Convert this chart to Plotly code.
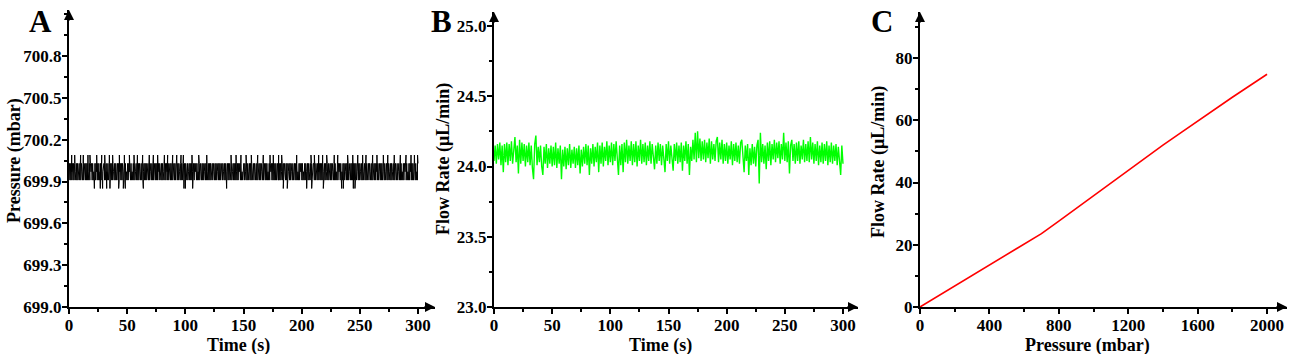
import plotly.graph_objects as go

# ---------------- data ----------------
# Panel A: pressure readings (quantised levels), band codes sampled evenly over 0-300 s
P_LEVEL = {"1": 699.91, "2": 699.97, "3": 700.03}
P_BAND = (
    "13131231313213131231313213123131312131323131213132131312313123"
    "31313213123131313213131231312313132131312131323131213131231313"
    "13213131231313123131321313123131312313213131231313213123131312"
    "31312313132131312313132131231313121313231312131321313123131213"
    "13131231321313123131312313213131231313213123131312131323131213"
    "31321313123131312313213131231313213123131312131323131213131231"
    "13131231313213131231313213123131312131323131213132131312313123"
    "31313213123131313213131231312313132131312131323131213131231313"
    "13213131231313123131321313123131312313213131231313213123131312"
    "31312313132131312313132131231313121313231312131321313123131213"
)
P_UP_VALUE = 700.09
P_UP_T = [2.3, 4.9, 10.0, 12.3, 16.3, 18.0, 23.8, 28.1, 30.7, 34.7, 37.5, 43.3, 47.6,
          51.9, 55.9, 58.8, 63.3, 69.0, 72.5, 76.2, 82.0, 84.8, 89.1, 92.6, 96.3, 98.3,
          105.7, 111.5, 118.4, 139.3, 143.6, 147.8, 152.2, 156.7, 162.2, 167.0, 172.8,
          175.6, 180.2, 182.8, 195.7, 208.0, 210.9, 214.6, 218.0, 221.5, 228.0, 231.0,
          239.5, 243.9, 248.2, 252.4, 255.3, 261.0, 264.7, 270.2, 274.0, 279.6, 284.8,
          289.7, 294.0, 296.9, 299.6]
P_DOWN_VALUE = 699.85
P_DOWN_T = [21.8, 26.9, 28.9, 32.4, 35.2, 42.7, 46.7, 48.4, 63.9, 98.8, 100.0, 106.3,
            135.5, 184.2, 187.6, 204.3, 208.6, 218.6, 234.4, 235.8, 244.4, 245.8]
P_TICKS = [699.0, 699.3, 699.6, 699.9, 700.2, 700.5, 700.8]

# Panel B: flow rate, hundredths of uL/min above 24.00, one reading per second (0-300 s)
FLOW_BASE = 24.0
FLOW_HUNDREDTHS = [
    4, 15, 2, 16, 5, 17, 1, 15, -4, 16,
    3, 17, 1, 16, 4, 18, 2, 16, 21, 3,
    15, -5, 19, 2, 17, 4, 16, 0, 15, 3,
    17, 1, 15, -1, -9, 16, 22, 1, 14, 3,
    15, 0, -6, 14, 2, 16, -1, 13, 2, 15,
    0, 14, 1, 17, -1, 13, 2, 15, -9, 12,
    0, 14, -2, 13, 1, 16, -1, 12, 2, 14,
    -1, 13, 1, 15, -5, 12, 0, 14, 2, 16,
    1, 15, -6, 13, 2, 16, 0, 14, 3, 17,
    -4, 15, 2, 17, 0, 14, 4, 18, 1, 15,
    3, 17, 1, 16, 4, 18, 2, -6, 15, 1,
    16, -4, 17, 3, 19, 2, 15, 4, 18, 1,
    16, 3, 18, 0, 15, 4, 19, 2, 16, 3,
    17, 1, 15, 4, 18, 2, 16, 3, -2, 15,
    2, 17, 4, 16, 1, 15, 3, -4, 16, 4,
    18, 2, 15, 3, -3, 16, 4, 17, 2, 15,
    3, 17, -3, 15, 4, 18, 2, 16, -6, 14,
    4, 19, 5, 24, 3, 25, 6, 20, 4, 18,
    5, 19, 3, 17, 6, 20, 2, 18, 5, 16,
    4, 18, 21, 3, 17, 5, 19, 2, 16, 4,
    17, 2, 15, 5, 18, 1, 16, 4, 17, 3,
    15, 2, 17, 19, 3, -4, 15, 4, 16, -6,
    13, 1, 16, 2, 14, 0, 15, 19, -12, 24,
    3, 16, 2, 15, -2, 17, 4, 18, 1, 16,
    5, 19, 3, 17, 6, 18, 2, 16, 5, 24,
    4, 17, 3, 18, -5, 15, 19, 4, 16, 2,
    17, 4, 18, 2, 15, 5, 19, 3, 16, 4,
    18, 3, 21, 5, 17, 2, 16, 4, 18, 1,
    15, 3, 17, 2, 16, 4, 18, 1, 15, 3,
    17, 2, 15, 4, 16, 1, 14, 3, -6, 15,
    2,
]
T_END = 300.0

# Panel C: flow rate vs pressure
C_PRESSURE = [0, 100, 200, 300, 400, 500, 600, 700, 800, 900, 1000,
              1100, 1200, 1300, 1400, 1500, 1600, 1700, 1800, 1900, 2000]
C_FLOW = [0.0, 3.4, 6.8, 10.2, 13.6, 17.0, 20.3, 23.6, 27.6, 31.7, 35.9,
          40.0, 44.0, 48.0, 52.0, 55.9, 59.8, 63.6, 67.4, 71.1, 74.8]

# ---------------- build series ----------------
n = len(P_BAND)
pts = [(i * T_END / (n - 1), P_LEVEL[c]) for i, c in enumerate(P_BAND)]
pts += [(t, P_UP_VALUE) for t in P_UP_T]
pts += [(t, P_DOWN_VALUE) for t in P_DOWN_T]
pts.sort(key=lambda p: p[0])
pa_t = [p[0] for p in pts]
pa_v = [p[1] for p in pts]

m = len(FLOW_HUNDREDTHS)
fb_t = [i * T_END / (m - 1) for i in range(m)]
fb_v = [FLOW_BASE + h / 100 for h in FLOW_HUNDREDTHS]

# ---------------- figure ----------------
W, H = 1291, 354
def fx(px): return px / W
def fy(py): return 1 - py / H

FONT = "Liberation Serif, Times New Roman, serif"
tickfont = dict(family=FONT, size=17, color="black", weight="bold")
titlefont = dict(family=FONT, size=18, color="black", weight="bold")

fig = go.Figure()
fig.add_trace(go.Scatter(x=pa_t, y=pa_v, mode="lines", line=dict(color="black", width=1),
                         xaxis="x", yaxis="y", showlegend=False))
fig.add_trace(go.Scatter(x=fb_t, y=fb_v, mode="lines", line=dict(color="#00ff00", width=1.4),
                         xaxis="x2", yaxis="y2", showlegend=False))
fig.add_trace(go.Scatter(x=C_PRESSURE, y=C_FLOW, mode="lines", line=dict(color="#ff0000", width=1.6),
                         xaxis="x3", yaxis="y3", showlegend=False))

def xax(dom, rng, dtick, anchor):
    return dict(domain=dom, range=rng, anchor=anchor, showline=True, linecolor="black", linewidth=2,
                automargin=False, ticklabelstandoff=-3,
                ticks="outside", ticklen=5, tickwidth=1.5, tickcolor="black", dtick=dtick, tick0=0,
                minor=dict(dtick=dtick / 2, ticks="outside", ticklen=3, tickwidth=1.5, tickcolor="black"),
                showgrid=False, zeroline=False, tickfont=tickfont)

def yax(dom, rng, ticks, dtick, fmt, anchor):
    return dict(domain=dom, range=rng, anchor=anchor, showline=True, linecolor="black", linewidth=2,
                automargin=False, ticklabelstandoff=-3,
                ticks="outside", ticklen=5, tickwidth=1.5, tickcolor="black",
                tickmode="array", tickvals=ticks, tickformat=fmt,
                minor=dict(dtick=dtick / 2, tick0=ticks[0], ticks="outside", ticklen=3, tickwidth=1.5,
                           tickcolor="black"),
                showgrid=False, zeroline=False, tickfont=tickfont)

fig.update_layout(
    width=W, height=H, margin=dict(l=0, r=0, t=0, b=0),
    paper_bgcolor="white", plot_bgcolor="white",
    xaxis=xax([fx(69), fx(435)], [0, 314.6], 50, "y"),
    yaxis=yax([fy(307), fy(10)], [699.0, 701.13], P_TICKS, 0.3, ".1f", "x"),
    xaxis2=xax([fx(494), fx(858)], [0, 312.9], 50, "y2"),
    yaxis2=yax([fy(307), fy(12)], [23.0, 25.1], [23.0, 23.5, 24.0, 24.5, 25.0], 0.5, ".1f", "x2"),
    xaxis3=xax([fx(920), fx(1287)], [0, 2115], 400, "y3"),
    yaxis3=yax([fy(307), fy(12)], [0, 94.8], [0, 20, 40, 60, 80], 20, "d", "x3"),
)

ann = []
for xr, yr in [("x", "y"), ("x2", "y2"), ("x3", "y3")]:
    ann.append(dict(xref=f"{xr} domain", yref=f"{yr} domain", x=1, y=0, ax=-12, ay=0,
                    showarrow=True, arrowhead=2, arrowsize=1, arrowwidth=2, arrowcolor="black", text=""))
    ann.append(dict(xref=f"{xr} domain", yref=f"{yr} domain", x=0, y=1, ax=0, ay=12,
                    showarrow=True, arrowhead=2, arrowsize=1, arrowwidth=2, arrowcolor="black", text=""))
for letter, px in [("A", 27), ("B", 429), ("C", 869)]:
    ann.append(dict(xref="paper", yref="paper", x=fx(px), y=fy(2), xanchor="left", yanchor="top",
                    showarrow=False, text=letter,
                    font=dict(family=FONT, size=31, color="black", weight="bold")))
# axis titles
for text, px in [("Time (s)", 238), ("Time (s)", 660), ("Pressure (mbar)", 1087)]:
    ann.append(dict(xref="paper", yref="paper", x=fx(px), y=fy(345), xanchor="center", yanchor="middle",
                    showarrow=False, text=text, font=titlefont))
for text, px, py in [("Pressure (mbar)", 14, 161), ("Flow Rate (μL/min)", 443, 159),
                     ("Flow Rate (μL/min)", 878, 162)]:
    ann.append(dict(xref="paper", yref="paper", x=fx(px), y=fy(py), xanchor="center", yanchor="middle",
                    showarrow=False, text=text, textangle=-90, font=titlefont))
fig.update_layout(annotations=ann)

fig.write_html("out.html")
